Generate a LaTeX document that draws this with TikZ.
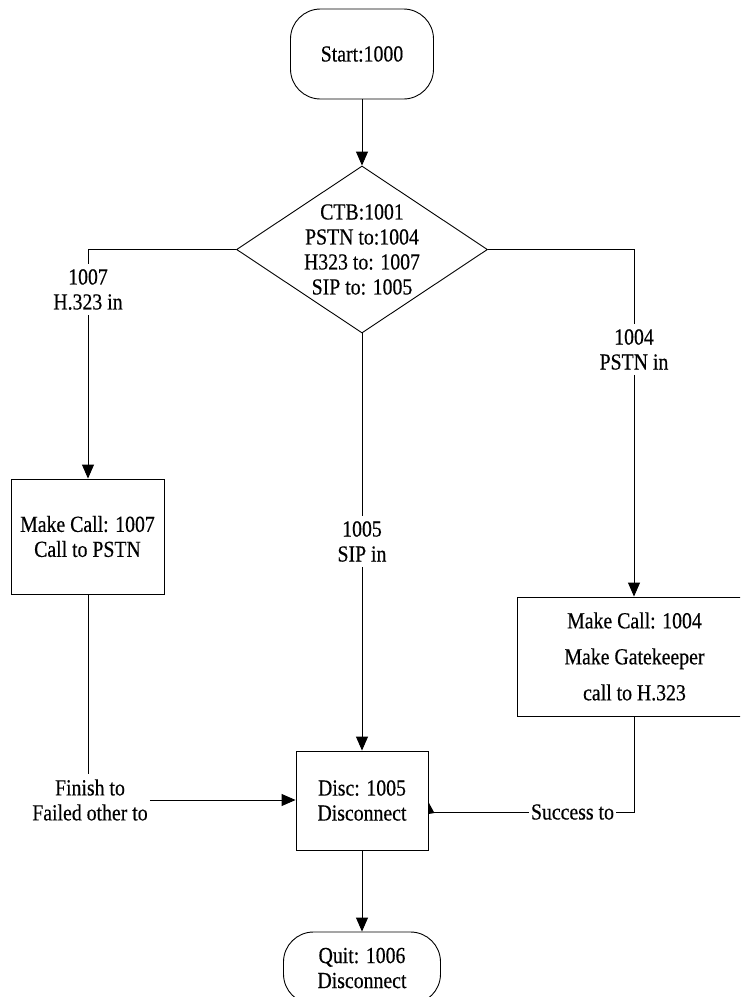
\documentclass[tikz,border=0pt]{standalone}
\usepackage{fontspec}
\setmainfont{Liberation Serif}[FakeStretch=0.86,FakeBold=0.4]
\usetikzlibrary{shapes.geometric,arrows.meta,calc}
\begin{document}
\begin{tikzpicture}[x=1pt,y=-1pt,
  every node/.style={font=\fontsize{23}{25}\selectfont, align=center},
  box/.style={draw, line width=0.9pt, inner sep=0pt},
  term/.style={box, rounded corners=30pt},
  lbl/.style={inner xsep=2pt, inner ysep=5pt},
  conn/.style={line width=0.9pt},
  arr/.style={conn, -{Triangle[length=14pt,width=12pt]}}]
\clip (0,0) rectangle (740,997);
% nodes
\node[term, minimum width=143pt, minimum height=90pt] (start) at (362,54) {Start:1000};
\node[diamond, draw, line width=0.9pt, minimum width=251pt, minimum height=167pt, inner sep=0pt] (dec) at (362,249.5) {};
\node (dectext) at (dec.center) {CTB:1001\\PSTN to:1004\\H323 to: 1007\\SIP to: 1005};
\node[lbl] (l1007) at (88,289.5) {1007\\H.323 in};
\node[box, minimum width=153pt, minimum height=115pt] (callA) at (87.5,536.5) {Make Call: 1007\\Call to PSTN};
\node[lbl] (l1005) at (362,541.5) {1005\\SIP in};
\node[lbl] (l1004) at (634,349.5) {1004\\PSTN in};
\node[box, minimum width=235pt, minimum height=119pt, font=\fontsize{23}{36}\selectfont] (callB) at (634.5,656.5) {Make Call: 1004\\Make Gatekeeper\\call to H.323};
\node[lbl] (lfin) at (90,800) {Finish to\\Failed other to};
\node[box, minimum width=132pt, minimum height=99pt] (disc) at (362,800.5) {Disc: 1005\\Disconnect};
\node[lbl] (lsucc) at (572.5,812) {Success to};
\node[term, minimum width=157pt, minimum height=72pt] (quit) at (362,968) {Quit: 1006\\Disconnect};
% connectors
\draw[arr] (start) -- (dec.north);
\draw[conn] (dec.west) -| (l1007.north);
\draw[arr] (l1007) -- (l1007 |- callA.north);
\draw[conn] (dec.south) -- (l1005);
\draw[arr] (l1005) -- (disc);
\draw[conn] (dec.east) -| (l1004.north);
\draw[arr] (l1004) -- (l1004 |- callB.north);
\draw[conn] (l1007 |- callA.south) -- (l1007 |- lfin.north);
\draw[arr] (lfin.east) -- (lfin.east -| disc.west);
\draw[conn] (l1004 |- callB.south) |- (lsucc.east);
\draw[conn] (lsucc.west) -- (lsucc.west -| disc.east);
\fill ($(lsucc.west -| disc.east)+(0,-10)$) -- ++(6,11) -- ++(-6,1) -- cycle;
\draw[arr] (disc) -- (quit);
\end{tikzpicture}
\end{document}
